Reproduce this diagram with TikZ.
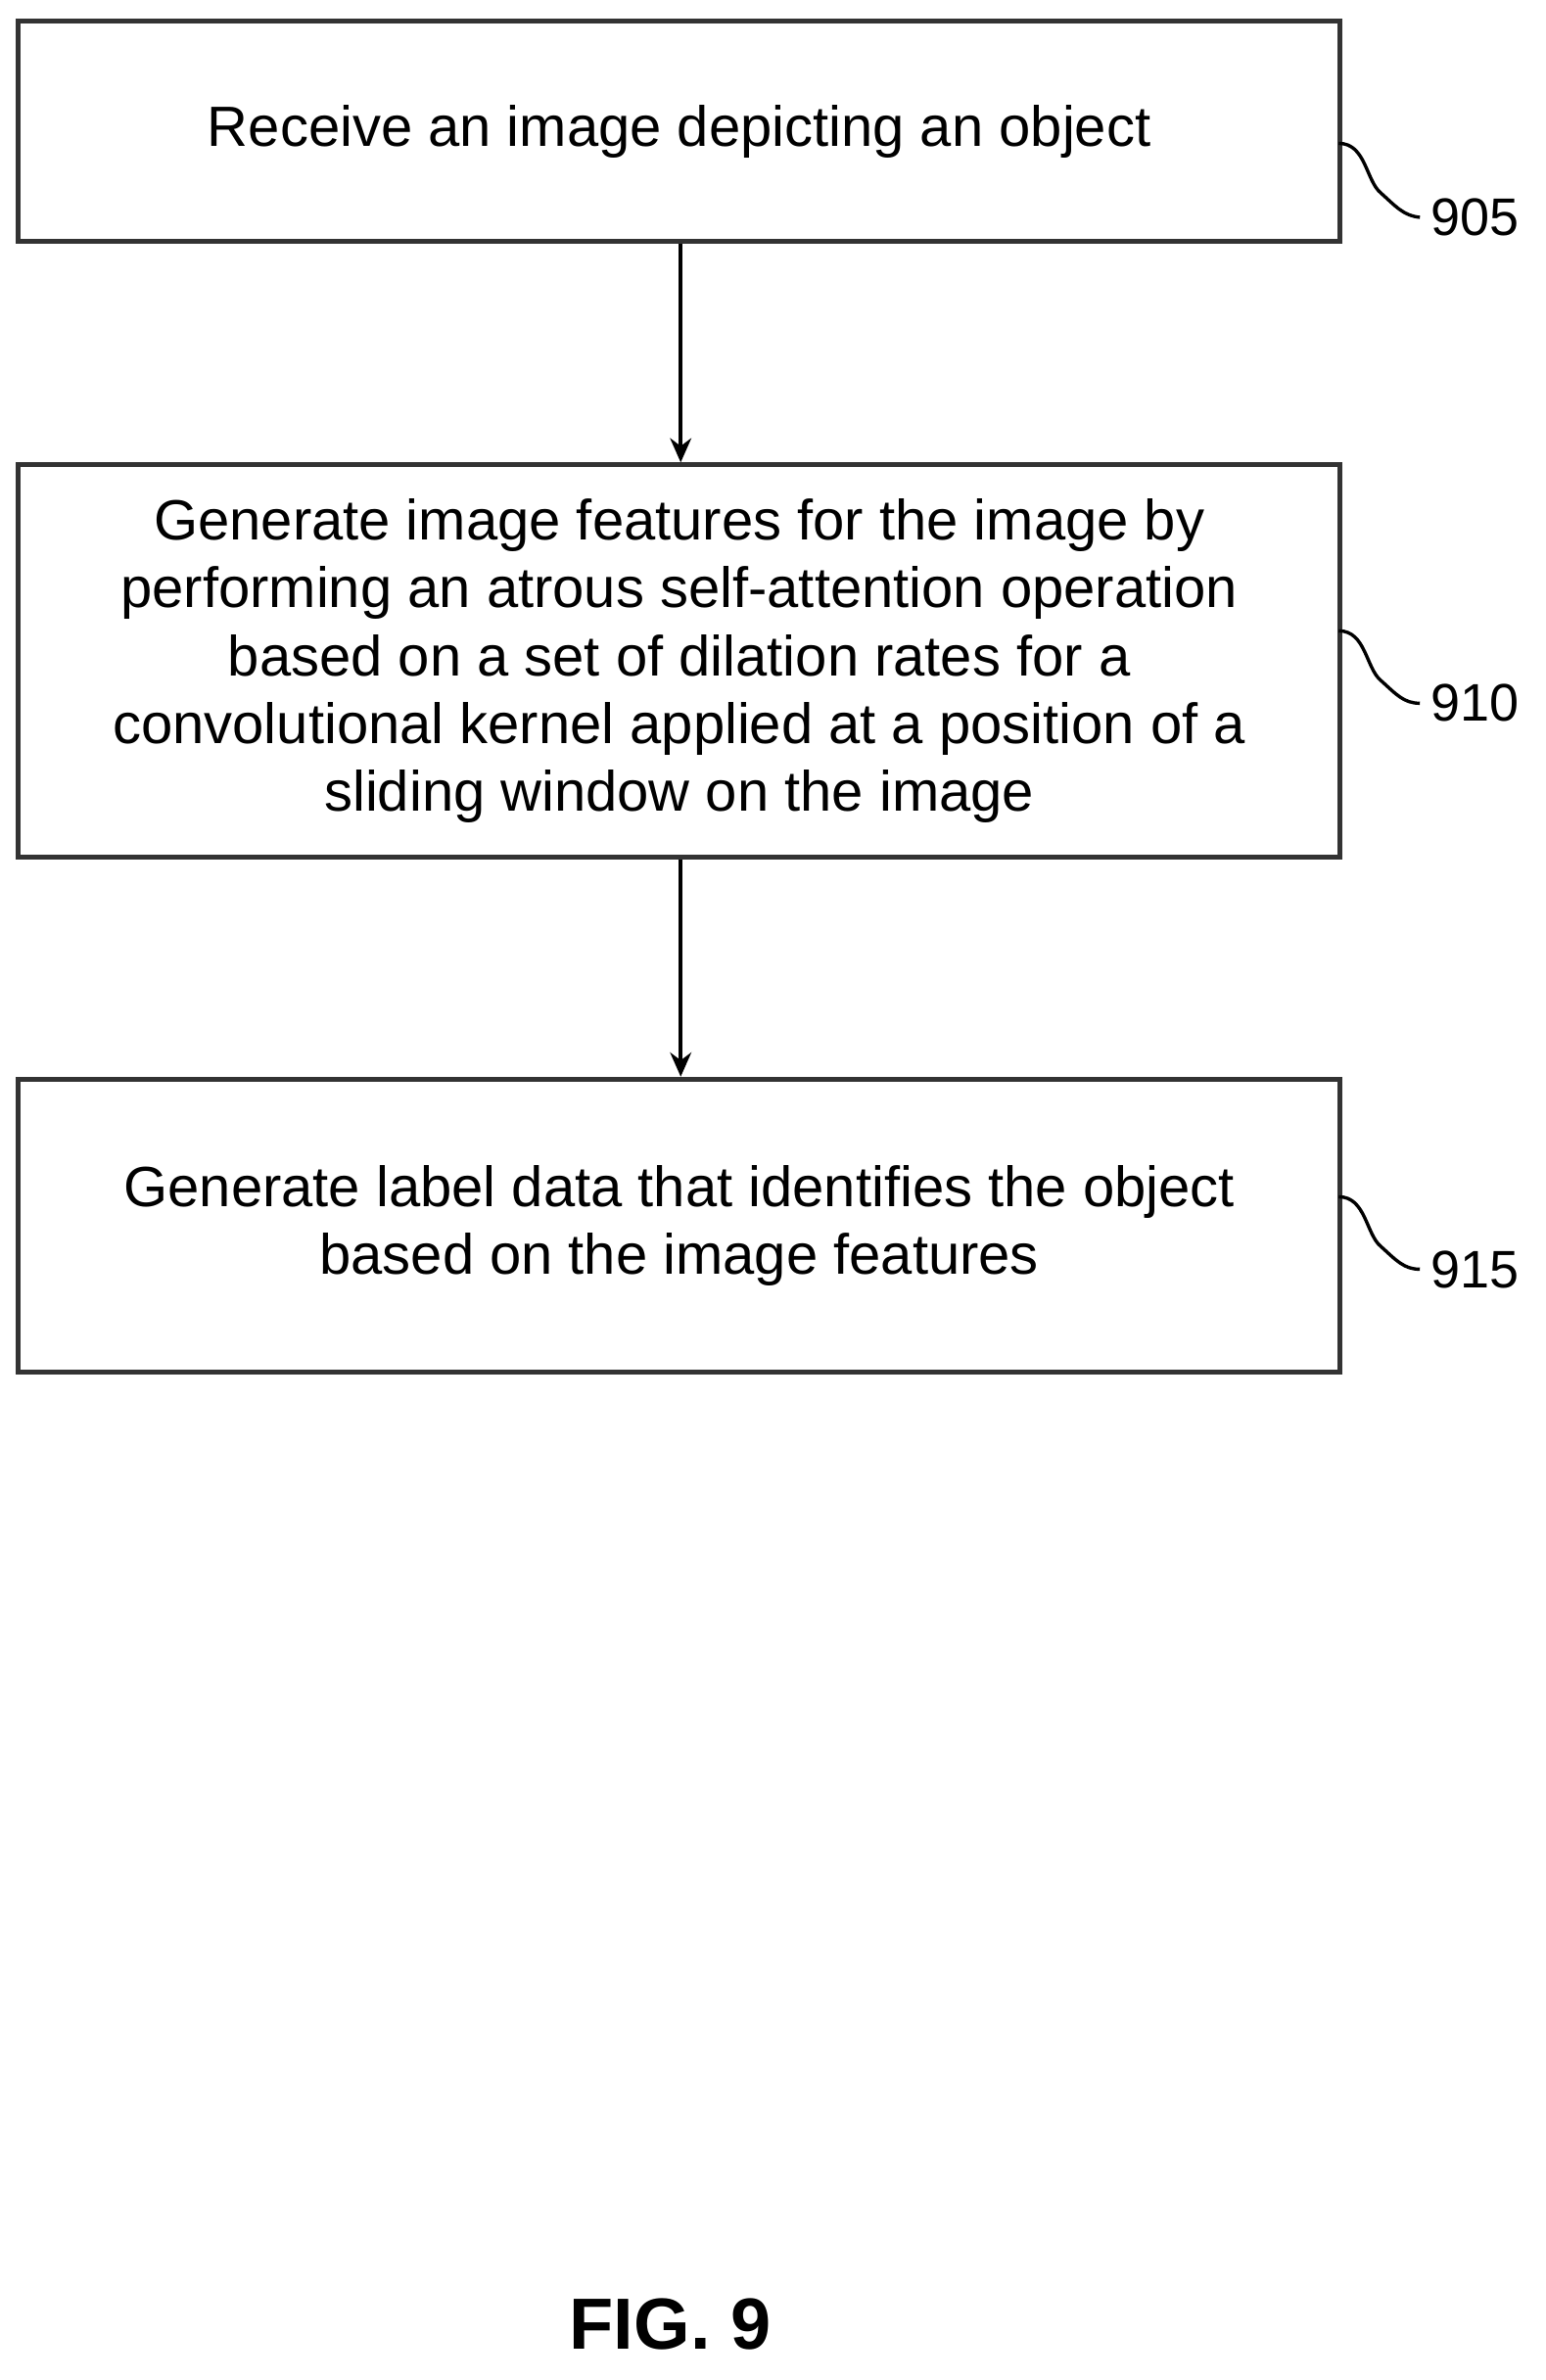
\documentclass[tikz,border=0pt]{standalone}
\usepackage{fontspec}
\setmainfont{Liberation Sans}
\usetikzlibrary{arrows.meta}
\begin{document}
\begin{tikzpicture}[x=0.5pt,y=-0.5pt,
 box/.style={draw=black!80,line width=1.6pt,minimum width=438pt,inner sep=0pt,align=center,font=\fontsize{18.8}{22.5}\selectfont},
 arr/.style={line width=1.3pt,-{Stealth[length=8pt,width=7pt]}},
 lbl/.style={font=\fontsize{17.5}{20}\selectfont},
 sq/.style={line width=1.1pt}]
\useasboundingbox (0,0) rectangle (1024,1577);
\node[box,minimum height=73pt] (b1) at (450,87) {Receive an image depicting an object};
\node[box,minimum height=130pt] (b2) at (450,438) {Generate image features for the image by\\performing an atrous self-attention operation\\based on a set of dilation rates for a\\convolutional kernel applied at a position of a\\sliding window on the image};
\node[box,minimum height=97pt] (b3) at (450,812) {Generate label data that identifies the object\\based on the image features};
\draw[arr] (b1.south -| 451,0) -- (b2.north -| 451,0);
\draw[arr] (b2.south -| 451,0) -- (b3.north -| 451,0);
\node[lbl] (l1) at (977,144) {905};
\node[lbl] (l2) at (977,466) {910};
\node[lbl] (l3) at (977,841) {915};
\foreach \b/\l/\y in {b1/l1/95,b2/l2/418,b3/l3/793}{
 \coordinate (s\b) at (887,\y);
 \draw[sq] (s\b) .. controls (905,\y) and (905,{\y+25}) .. (915,{\y+33}) .. controls (925,{\y+42}) and (930,{\y+48}) .. (\l.west);
}
\node[font=\bfseries\fontsize{24}{28}\selectfont] (fig) at (444,1540) {FIG. 9};
\end{tikzpicture}
\end{document}
